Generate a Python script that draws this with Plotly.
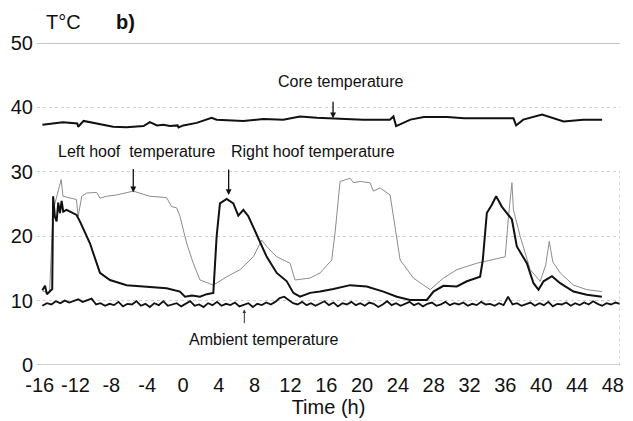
import plotly.graph_objects as go

# ---------------- data ----------------
x_ticks = [-16, -12, -8, -4, 0, 4, 8, 12, 16, 20, 24, 28, 32, 36, 40, 44, 48]
y_ticks = [0, 10, 20, 30, 40, 50]

core_h = [-15.7, -13.4, -11.8, -11.7, -11.1, -7.8, -6.3, -4.4, -3.7, -2.9, -2.2, -1.45,
          -0.6, -0.5, 0.03, 1.53, 3.2, 3.76, 6.74, 8.97, 11.2, 13.07, 14.94, 16.4, 20.1,
          23.1, 23.5, 23.8, 25.4, 26.9, 29.5, 31.4, 34.3, 36.9, 37.2, 38.0, 40.1, 42.5,
          44.7, 46.8]
core_t = [37.3, 37.7, 37.5, 37.0, 37.9, 37.0, 36.9, 37.1, 37.7, 37.2, 37.3, 37.1,
          37.2, 36.9, 37.2, 37.6, 38.4, 38.1, 37.9, 38.2, 38.1, 38.6, 38.4, 38.3, 38.1,
          38.1, 38.6, 37.1, 38.1, 38.5, 38.5, 38.3, 38.3, 38.3, 37.2, 38.1, 38.9, 37.8,
          38.1, 38.1]

right_h = [-15.7, -15.4, -15.2, -14.9, -14.6, -14.5, -14.3, -14.11, -13.93, -13.74, -13.55,
           -13.37, -13.0, -12.44, -11.88, -11.51, -10.39, -9.27, -8.16, -6.29, -3.69, -1.83,
           -0.34, 0.22, 1.0, 1.9, 2.65, 3.39, 3.76, 4.13, 4.88, 5.62, 6.18, 6.74, 7.3, 8.24,
           9.35, 10.47, 11.59, 12.32, 13.07, 14.19, 15.31, 16.8, 18.66, 20.52, 22.38, 23.88,
           25.36, 27.23, 27.97, 29.08, 30.58, 31.7, 33.18, 33.48, 33.93, 34.49, 34.97, 35.6,
           36.17, 36.73, 37.28, 38.4, 39.14, 39.7, 40.26, 41.2, 42.12, 43.61, 45.1, 46.78]
right_t = [11.6, 12.3, 11.0, 11.4, 11.8, 26.2, 23.0, 22.3, 25.2, 23.6, 25.5,
           23.8, 24.1, 23.7, 23.3, 22.3, 18.9, 14.3, 13.2, 12.4, 12.1, 11.9,
           11.4, 10.6, 10.8, 10.6, 11.0, 11.2, 20.0, 25.1, 25.8, 25.1, 23.2, 24.1, 23.1, 20.2,
           16.8, 14.3, 13.0, 11.2, 10.6, 11.2, 11.4, 11.8, 12.4, 12.2, 11.4, 10.6,
           10.1, 10.1, 11.4, 12.3, 12.2, 13.0, 13.7, 16.3, 23.6, 24.9, 26.2, 24.6,
           23.6, 22.6, 18.4, 15.8, 12.7, 11.7, 13.0, 13.8, 12.7, 11.4, 10.9, 10.6]

left_h = [-15.7, -14.9, -14.5, -13.6, -13.4, -11.9, -11.7, -11.3, -10.76, -9.64, -9.27,
          -8.53, -7.41, -5.55, -3.69, -1.83, -1.27, -0.71, -0.34, 0.41, 1.15, 1.9, 3.39,
          4.88, 6.37, 7.86, 8.79, 9.35, 10.47, 11.96, 12.51, 14.19, 15.31, 16.61, 16.98,
          17.54, 18.66, 19.03, 19.78, 20.89, 21.26, 22.01, 23.13, 23.5, 24.25, 25.73, 27.6,
          29.08, 30.58, 32.8, 34.3, 35.98, 36.35, 36.73, 36.9, 37.65, 38.77, 39.89, 40.5,
          40.9, 41.3, 42.12, 43.61, 45.1, 46.78]
left_t = [11.5, 11.2, 24.0, 28.8, 26.2, 25.7, 23.1, 26.2, 26.7, 26.8, 25.9,
          26.2, 26.4, 27.0, 26.2, 26.0, 24.6, 24.4, 23.1, 18.9, 15.8, 13.2, 12.4,
          13.7, 14.8, 16.8, 19.4, 18.4, 16.8, 15.8, 13.2, 13.5, 14.3, 16.3, 20.5,
          28.5, 29.0, 28.3, 28.5, 28.3, 27.0, 27.5, 26.4, 23.1, 16.3, 13.5, 11.7,
          13.5, 14.8, 15.8, 16.3, 16.8, 23.1, 28.3, 24.1, 20.0, 14.8, 13.0, 15.5,
          19.2, 16.0, 14.3, 12.4, 11.7, 11.4]

amb_start = -15.7
amb_step = 0.5
amb_t = [9.2, 9.6, 9.4, 9.9, 9.6, 10.0, 9.7, 9.9, 10.2, 9.8,
         10.1, 10.3, 9.4, 9.6, 9.2, 9.5, 9.3, 9.8, 9.1, 9.5,
         9.4, 9.9, 9.2, 9.5, 9.0, 9.6, 9.3, 9.9, 9.2, 9.4,
         9.6, 9.1, 9.5, 9.9, 9.2, 9.4, 9.0, 9.6, 9.3, 9.8,
         9.2, 9.5, 9.3, 9.7, 9.1, 9.4, 9.6, 9.0, 9.5, 9.3,
         9.7, 9.4, 9.8, 10.4, 10.6, 10.1, 9.6, 9.4, 9.8, 9.3,
         9.6, 9.2, 9.5, 9.9, 9.3, 9.7, 9.1, 9.6, 9.4, 9.8,
         9.3, 9.6, 9.2, 9.7, 9.5, 9.0, 9.4, 9.9, 9.3, 9.6,
         9.2, 9.5, 9.8, 9.3, 9.6, 9.1, 9.5, 9.7, 9.2, 9.4,
         9.8, 9.3, 9.6, 9.4, 9.7, 9.2, 9.5, 9.3, 9.8, 9.4,
         9.5, 9.2, 9.6, 9.3, 10.6, 9.4, 9.6, 9.2, 9.5, 9.7,
         9.2, 9.6, 9.3, 9.8, 9.1, 9.5, 9.4, 9.7, 9.2, 9.6,
         9.3, 9.7, 9.4, 9.9, 9.5, 9.2, 9.6, 9.4, 9.7, 9.5]
amb_h = [round(amb_start + i * amb_step, 2) for i in range(len(amb_t))]

# ---------------- figure ----------------
FONT = "Liberation Sans, Arial, Helvetica, sans-serif"
fig = go.Figure()

fig.add_trace(go.Scatter(x=left_h, y=left_t, mode="lines",
                         line=dict(color="#8c8c8c", width=1), showlegend=False))
fig.add_trace(go.Scatter(x=amb_h, y=amb_t, mode="lines",
                         line=dict(color="#111111", width=1.8), showlegend=False))
fig.add_trace(go.Scatter(x=right_h, y=right_t, mode="lines",
                         line=dict(color="#111111", width=2), showlegend=False))
fig.add_trace(go.Scatter(x=core_h, y=core_t, mode="lines",
                         line=dict(color="#111111", width=2), showlegend=False))

# frame lines
fig.add_shape(type="line", xref="x", yref="y", x0=-16.3, x1=48.8, y0=50, y1=50,
              line=dict(color="#8a8a8a", width=1.2))
fig.add_shape(type="line", xref="x", yref="y", x0=-16.3, x1=48.8, y0=0, y1=0,
              line=dict(color="#a0a0a0", width=1.2))
fig.add_shape(type="line", xref="x", yref="y", x0=48.8, x1=48.8, y0=0, y1=30,
              line=dict(color="#b0b0b0", width=1, dash="dot"))

ann_font = dict(family=FONT, size=16, color="#111111")
annotations = [
    dict(x=17.54, y=44.0, text="Core temperature", showarrow=False, font=ann_font),
    dict(x=-5.14, y=33.1, text="Left hoof\u00a0\u00a0temperature", showarrow=False, font=ann_font),
    dict(x=14.47, y=33.1, text="Right hoof temperature", showarrow=False, font=ann_font),
    dict(x=9.05, y=4.0, text="Ambient temperature", showarrow=False, font=ann_font),
    dict(x=16.76, y=38.3, text="", showarrow=True, ax=0, ay=-18, arrowhead=2,
         arrowsize=0.9, arrowwidth=1.3, arrowcolor="#111111"),
    dict(x=-5.55, y=26.8, text="", showarrow=True, ax=0, ay=-25, arrowhead=2,
         arrowsize=0.9, arrowwidth=1.3, arrowcolor="#111111"),
    dict(x=5.1, y=26.4, text="", showarrow=True, ax=0, ay=-27, arrowhead=2,
         arrowsize=0.9, arrowwidth=1.3, arrowcolor="#111111"),
    dict(x=6.85, y=8.6, text="", showarrow=True, ax=0, ay=15, arrowhead=2,
         arrowsize=0.7, arrowwidth=1, arrowcolor="#333333"),
    dict(xref="paper", yref="paper", x=0.045, y=1.065, xanchor="center", yanchor="middle",
         text="T°C", showarrow=False, font=dict(family=FONT, size=20, color="#111111")),
    dict(xref="paper", yref="paper", x=0.151, y=1.065, xanchor="center", yanchor="middle",
         text="<b>b)</b>", showarrow=False, font=dict(family=FONT, size=20, color="#111111")),
]
for a in annotations:
    a.setdefault("xref", "x")
    a.setdefault("yref", "y")
fig.update_layout(annotations=annotations)

fig.update_layout(
    width=633, height=421, autosize=False,
    margin=dict(l=37, r=13, t=43, b=56, pad=0),
    paper_bgcolor="white", plot_bgcolor="white",
    font=dict(family=FONT, color="#111111"),
    xaxis=dict(range=[-16.3, 48.8], tickvals=x_ticks, ticktext=[str(v) for v in x_ticks],
               showgrid=False, zeroline=False, showline=False, ticks="", automargin=False,
               tickfont=dict(size=20, family=FONT), ticklabelstandoff=6,
               title=dict(text="Time (h)", font=dict(size=20, family=FONT), standoff=2)),
    yaxis=dict(range=[0, 50], tickvals=y_ticks, ticktext=[str(v) for v in y_ticks],
               showgrid=True, gridcolor="#d0d0d0", griddash="dot", gridwidth=1,
               zeroline=False, showline=False, ticks="", automargin=False,
               tickfont=dict(size=20, family=FONT), ticklabelstandoff=3),
)

fig.write_html("out.html",
               config={"responsive": False, "displayModeBar": False},
               post_script="document.body.style.margin='0';document.body.style.overflow='hidden';")
